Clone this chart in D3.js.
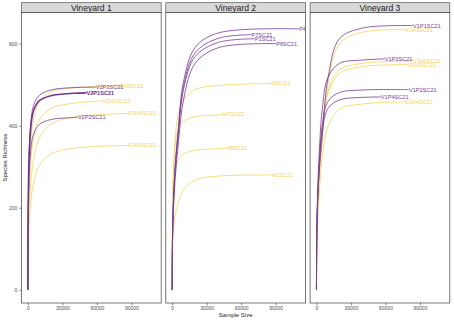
<!DOCTYPE html>
<html><head><meta charset="utf-8">
<script src="https://cdn.jsdelivr.net/npm/d3@7"></script>
<style>body{margin:0;background:#fff}svg{display:block}</style>
</head><body>
<svg id="c" width="454" height="321"></svg>
<script>
// ---------- data ----------
const panels = ["Vineyard 1", "Vineyard 2", "Vineyard 3"];
const sampleNames = [
  "V2P3SC21","V2H3SC21","V2P1SC21","V2H1SC21","V2P2SC21","V2H4SC21","V2H2SC21",
  "P4SC21","P7SC21","P1SC21","P8SC21","H6SC21","H7SC21","H8SC21","H1SC21",
  "V1P1SC21","V1H1SC21","V1P3SC21","V1H2SC21","V1H3SC21","V1P2SC21","V1P4SC21","V1H4SC21"
];
const samplePanel = [0,0,0,0,0,0,0, 1,1,1,1,1,1,1,1, 2,2,2,2,2,2,2,2];
const sampleType  = ["P","H","P","H","P","H","H", "P","P","P","P","H","H","H","H", "P","H","P","H","H","P","P","H"];
const sampleBold  = ["V2P1SC21"];
// sequencing depths at which richness was read (last depth = sampleEnd)
const depthGrid = [0, 300, 1000, 2500, 5000, 10000, 20000, 40000];
const sampleEnd = [59000,76000,51000,65000,43500,87000,87000,
                   110400,69000,72000,90500,84500,44500,47000,86700,
                   84000,76800,59400,84000,79500,80400,56000,76800];
const richness = [
  [0,198,321,405,450,474,487,493,494],
  [0,174,273,358,417,457,482,492,497],
  [0,192,312,394,437,461,473,479,480],
  [0,150,235,310,370,414,442,455,460],
  [0,160,265,340,380,403,415,420,421],
  [0,129,194,258,318,370,404,421,430],
  [0,100,160,215,260,303,331,345,352],
  [0,127,210,299,382,509,591,626,636],
  [0,124,205,292,373,498,578,613,622],
  [0,122,202,288,367,490,569,603,612],
  [0,110,185,265,345,465,552,590,600],
  [0,176,277,362,423,463,488,498,503],
  [0,171,278,351,389,411,422,426,428],
  [0,138,224,283,314,331,340,344,345],
  [0,84,140,180,210,245,268,277,280],
  [0,129,213,290,374,515,612,638,644],
  [0,120,200,278,362,500,600,628,634],
  [0,135,236,338,439,518,552,560,563],
  [0,112,195,290,391,485,536,552,558],
  [0,110,192,285,384,478,527,544,549],
  [0,127,220,312,400,459,481,487,488],
  [0,122,212,301,385,442,463,469,470],
  [0,92,160,238,321,398,440,453,458]
];
const xTicks = [0, 30000, 60000, 90000];
const yTicks = [0, 200, 400, 600];
const xTitle = "Sample Size";
const yTitle = "Species Richness";

// ---------- layout ----------
const svg = d3.select("#c");
const left = 21.5, panelW = 139.7, gap = 4.6;
const stripTop = 2.7, stripBot = 12.4, panelBot = 303;
const colors = {P: "#7b3a96", H: "#f2d350"};
const fontFam = "Liberation Sans, Arial, sans-serif";

const y = d3.scaleLinear().domain([-32.2, 676.2]).range([panelBot, stripBot]);
const xDom = [-5520, 110400 + 5520];

// y axis
const yAxisG = svg.append("g").attr("transform", `translate(${left},0)`);
yAxisG.call(d3.axisLeft(y).tickValues(yTicks).tickSize(2.2).tickPadding(2).tickFormat(d3.format("d")));
yAxisG.select(".domain").remove();
yAxisG.selectAll("line").attr("stroke", "#333").attr("stroke-width", 0.6);
yAxisG.selectAll("text").attr("font-family", fontFam).attr("font-size", 5).attr("fill", "#4d4d4d");

svg.append("text").attr("transform", `translate(6.5,${(stripBot+panelBot)/2}) rotate(-90)`)
  .attr("text-anchor", "middle").attr("font-family", fontFam).attr("font-size", 6).attr("fill", "#1a1a1a").text(yTitle);

const line = d3.line().curve(d3.curveCatmullRom.alpha(0.5));

panels.forEach((pname, pi) => {
  const x0 = left + pi * (panelW + gap);
  const x = d3.scaleLinear().domain(xDom).range([x0, x0 + panelW]);
  const clipId = "clip" + pi;
  svg.append("clipPath").attr("id", clipId).append("rect")
    .attr("x", x0).attr("y", stripBot).attr("width", panelW).attr("height", panelBot - stripBot);

  // strip
  svg.append("rect").attr("x", x0).attr("y", stripTop).attr("width", panelW).attr("height", stripBot - stripTop)
    .attr("fill", "#d9d9d9").attr("stroke", "#555").attr("stroke-width", 0.7);
  svg.append("text").attr("x", x0 + panelW / 2).attr("y", (stripTop + stripBot) / 2 + 0.3)
    .attr("dominant-baseline", "central").attr("text-anchor", "middle")
    .attr("font-family", fontFam).attr("font-size", 8.6).attr("fill", "#1a1a1a").text(pname);

  const g = svg.append("g").attr("clip-path", `url(#${clipId})`);
  const idx = sampleNames.map((n, i) => i).filter(i => samplePanel[i] === pi);
  // yellow first, purple on top
  const order = idx.filter(i => sampleType[i] === "H").concat(idx.filter(i => sampleType[i] === "P"));
  order.forEach(i => {
    const depths = depthGrid.concat([sampleEnd[i]]);
    const pts = depths.map((d, k) => [x(d), y(richness[i][k])]);
    const bold = sampleBold.includes(sampleNames[i]);
    g.append("path").attr("d", line(pts)).attr("fill", "none")
      .attr("stroke", bold ? "#6a2a8c" : colors[sampleType[i]])
      .attr("stroke-width", bold ? 1.6 : 0.85)
      .attr("stroke-opacity", sampleType[i] === "H" ? 0.9 : 0.95);
  });
  order.forEach(i => {
    const bold = sampleBold.includes(sampleNames[i]);
    const last = richness[i][richness[i].length - 1];
    g.append("text").attr("x", x(sampleEnd[i])).attr("y", y(last))
      .attr("dominant-baseline", "central").attr("font-family", fontFam)
      .attr("font-size", 5.6).attr("font-weight", bold ? "bold" : "normal")
      .attr("fill", bold ? "#6a2a8c" : colors[sampleType[i]]).text(sampleNames[i]);
  });

  // panel border
  svg.append("rect").attr("x", x0).attr("y", stripBot).attr("width", panelW).attr("height", panelBot - stripBot)
    .attr("fill", "none").attr("stroke", "#555").attr("stroke-width", 0.8);

  // x axis
  const xg = svg.append("g").attr("transform", `translate(0,${panelBot})`);
  xg.call(d3.axisBottom(x).tickValues(xTicks).tickSize(2.2).tickPadding(1.5).tickFormat(d3.format("d")));
  xg.select(".domain").remove();
  xg.selectAll("line").attr("stroke", "#333").attr("stroke-width", 0.6);
  xg.selectAll("text").attr("font-family", fontFam).attr("font-size", 5).attr("fill", "#4d4d4d");
});

svg.append("text").attr("x", left + (3 * panelW + 2 * gap) / 2).attr("y", 317)
  .attr("text-anchor", "middle").attr("font-family", fontFam).attr("font-size", 6).attr("fill", "#1a1a1a").text(xTitle);
</script>
</body></html>
